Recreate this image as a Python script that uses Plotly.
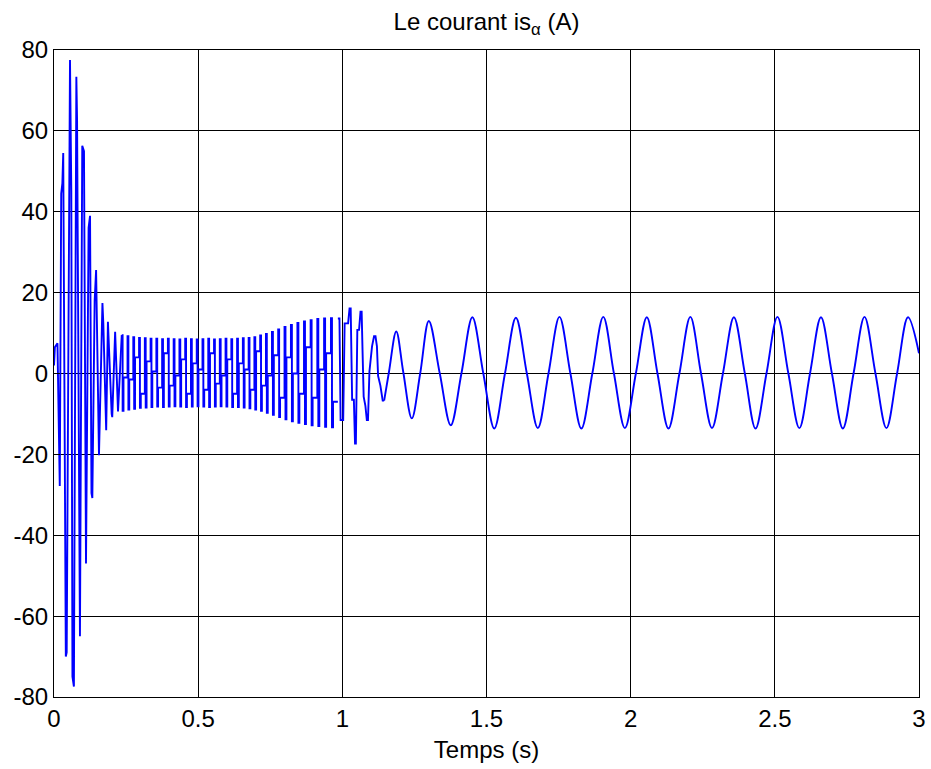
import plotly.graph_objects as go

# ---------------- data ----------------
# start-up transient (s, A)
trans_t = [0.000, 0.003, 0.012, 0.016, 0.020, 0.025, 0.029, 0.032, 0.041, 0.044,
           0.0555, 0.060, 0.064, 0.069, 0.0775, 0.080, 0.090, 0.098, 0.104, 0.111,
           0.120, 0.125, 0.130, 0.133, 0.141, 0.146, 0.156, 0.168, 0.171, 0.181,
           0.187, 0.200, 0.202, 0.212, 0.222, 0.235]
trans_v = [2.0, 6.5, 7.5, -17.0, -27.8, 44.5, 47.0, 54.5, -70.0, -69.0,
           77.5, 45.0, -75.0, -77.4, 73.4, 62.7, -65.0, 56.3, 55.0, -47.0,
           36.0, 39.0, -29.6, -30.8, 18.0, 25.6, -20.2, 17.4, 12.5, -14.0,
           12.8, -10.0, -10.8, 10.3, -9.4, 9.5]

# fast oscillation 0.235 s .. 0.985 s, one entry per cycle
fast_t0 = 0.235
fast_period = [0.020, 0.020, 0.020, 0.020, 0.020, 0.020, 0.020, 0.020, 0.020, 0.020,
               0.020, 0.020, 0.020, 0.020, 0.020, 0.020, 0.020, 0.020, 0.020, 0.020,
               0.020, 0.020, 0.020, 0.020, 0.020, 0.0210, 0.0215, 0.0220, 0.0222, 0.0225,
               0.0228, 0.0230, 0.0232, 0.0235, 0.0238, 0.0240]
fast_top = [9.5, 9.2, 9.0, 8.8, 8.7, 8.6, 8.6, 8.5, 8.6, 8.5, 8.4, 8.6,
            8.5, 8.4, 8.5, 8.6, 8.4, 8.5, 8.6, 8.5, 8.6, 8.7, 8.8, 9.0,
            9.4, 9.8, 10.3, 10.9, 11.5, 12.0, 12.5, 12.9, 13.2, 13.5, 13.6, 13.7]
fast_bottom = [-9.2, -8.9, -8.7, -8.5, -8.4, -8.3, -8.2, -8.3, -8.2, -8.1, -8.2, -8.3,
               -8.2, -8.1, -8.2, -8.3, -8.2, -8.1, -8.2, -8.3, -8.3, -8.4, -8.6, -8.9,
               -9.2, -9.7, -10.2, -10.8, -11.3, -11.8, -12.2, -12.5, -12.8, -13.0, -13.2, -13.3]
fast_mid = [-1.0, -1.5, 4.0, -5.0, 3.0, 0.5, -3.5, 5.0, -3.0, -0.5, 3.5, -5.0,
            2.5, 1.0, -4.0, 5.0, -2.5, -0.5, 3.5, -5.0, 2.5, 1.0, -4.0, 5.5,
            -3.0, -0.5, 4.5, -6.0, 4.0, 0.0, -5.0, 6.5, -6.0, 1.0, 5.0, -7.0]

# transition 0.985 s .. 1.145 s
trn_t = [0.9845, 0.990, 0.994, 1.003, 1.008, 1.020, 1.025, 1.029, 1.034,
         1.040, 1.044, 1.047, 1.052, 1.058, 1.063, 1.067, 1.070, 1.074, 1.080,
         1.085, 1.089, 1.094, 1.103, 1.110, 1.115, 1.120, 1.124, 1.132, 1.140, 1.145]
trn_v = [13.6, 13.6, -11.5, -11.5, 12.4, 12.4, 16.1, 16.1, -6.5,
         -6.5, -17.3, -17.3, 10.8, 10.8, 15.3, 15.3, 5.8, -5.7, -8.0,
         -11.5, -11.5, 0.5, 6.7, 9.2, 9.2, 6.7, -0.6, -3.0, -6.7, -6.7]

# slow sinusoidal regime 1.145 s .. 3 s
slow_t = [1.145, 1.162, 1.187, 1.211, 1.241, 1.270, 1.300, 1.338, 1.376, 1.413,
          1.451, 1.489, 1.527, 1.564, 1.602, 1.640, 1.678, 1.715, 1.753, 1.791,
          1.829, 1.867, 1.905, 1.942, 1.980, 2.018, 2.056, 2.093, 2.131, 2.169,
          2.207, 2.244, 2.282, 2.320, 2.358, 2.396, 2.433, 2.471, 2.509, 2.547,
          2.585, 2.622, 2.660, 2.698, 2.736, 2.773, 2.811, 2.849, 2.887, 2.924,
          2.962, 3.000]
slow_v = [-6.7, 0.5, 10.4, 0.5, -11.1, 0.0, 13.0, 0.0, -12.8, 0.0,
          13.9, 0.0, -13.6, 0.0, 13.8, 0.0, -13.5, 0.0, 14.0, 0.0,
          -13.6, 0.0, 14.0, 0.0, -13.5, 0.0, 13.9, 0.0, -13.6, 0.0,
          14.0, 0.0, -13.5, 0.0, 13.9, 0.0, -13.6, 0.0, 14.0, 0.0,
          -13.5, 0.0, 13.9, 0.0, -13.6, 0.0, 14.0, 0.0, -13.5, 0.0,
          13.9, 5.0]

x_ticks = [0, 0.5, 1, 1.5, 2, 2.5, 3]
x_labels = ["0", "0.5", "1", "1.5", "2", "2.5", "3"]
y_ticks = [-80, -60, -40, -20, 0, 20, 40, 60, 80]
y_labels = ["-80", "-60", "-40", "-20", "0", "20", "40", "60", "80"]

# ---------------- build the fast sample sequence (held samples) ----------------
fast_x, fast_y = [], []
t = fast_t0
for P, top, bot, mid in zip(fast_period, fast_top, fast_bottom, fast_mid):
    fast_x += [t, t + 0.15 * P, t + 0.30 * P]
    fast_y += [top, bot, mid]
    t += P
# hold the last level up to the start of the transition
fast_x.append(trn_t[0])
fast_y.append(fast_y[-1])

BLUE = "#0000ff"
LW = 1.9

fig = go.Figure()
fig.add_trace(go.Scatter(x=trans_t, y=trans_v, mode="lines",
                         line=dict(color=BLUE, width=LW), showlegend=False))
fig.add_trace(go.Scatter(x=fast_x, y=fast_y, mode="lines",
                         line=dict(color=BLUE, width=LW, shape="hv"), showlegend=False))
fig.add_trace(go.Scatter(x=trn_t, y=trn_v, mode="lines",
                         line=dict(color=BLUE, width=LW), showlegend=False))
fig.add_trace(go.Scatter(x=slow_t, y=slow_v, mode="lines",
                         line=dict(color=BLUE, width=LW, shape="spline", smoothing=1.0),
                         showlegend=False))

FONT = "Liberation Sans, Arial, sans-serif"
FS = 24
axis_common = dict(showgrid=True, gridcolor="black", gridwidth=1,
                   showline=True, linecolor="black", linewidth=1, mirror="ticks",
                   ticks="inside", ticklen=6, tickcolor="black", zeroline=False,
                   automargin=False,
                   tickfont=dict(family=FONT, size=FS, color="black"))

fig.update_layout(
    width=931, height=769,
    margin=dict(l=54, r=12, t=50, b=72),
    paper_bgcolor="white", plot_bgcolor="white",
    font=dict(family=FONT, size=FS, color="black"),
    title=dict(text="Le courant is<sub>α</sub> (A)", x=0.5, xref="paper",
               y=1 - 22 / 769, yref="container", yanchor="middle",
               font=dict(family=FONT, size=FS, color="black")),
    xaxis=dict(range=[0, 3], tickvals=x_ticks, ticktext=x_labels,
               title=dict(text="Temps (s)", standoff=10,
                          font=dict(family=FONT, size=FS, color="black")),
               **axis_common),
    yaxis=dict(range=[-80, 80], tickvals=y_ticks, ticktext=y_labels, **axis_common),
)

fig.write_html("out.html")
